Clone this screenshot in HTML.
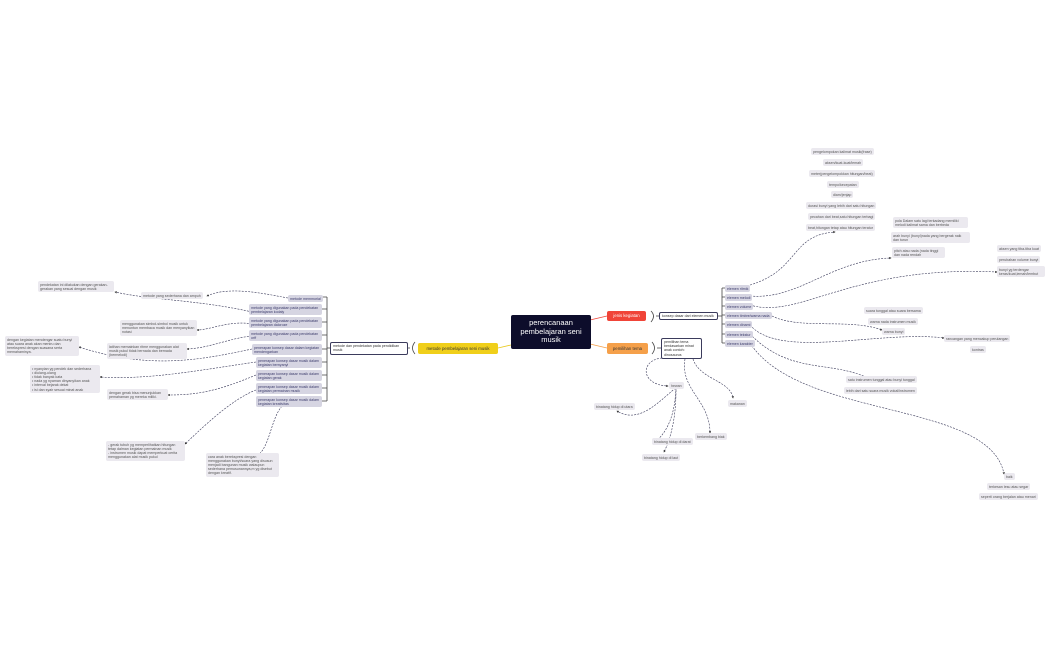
<!DOCTYPE html>
<html><head><meta charset="utf-8"><style>
html,body{margin:0;padding:0;background:#fff;width:1050px;height:650px;overflow:hidden;font-family:"Liberation Sans",sans-serif}
.n{position:absolute;background:#ebe9ef;border-radius:2px;color:#555;font-size:3.6px;line-height:4.2px;padding:1.5px 2px;box-sizing:border-box;white-space:normal}
.d{background:#d6d5e2;color:#3b3b6b}
.c{text-align:center;white-space:nowrap}
.w{position:absolute;background:#fff;border:1px solid #3b3b5c;border-radius:2px;color:#333;font-size:3.6px;line-height:4.2px;padding:1px 2px;box-sizing:border-box}
svg{position:absolute;left:0;top:0}
</style></head><body>
<svg width="1050" height="650" viewBox="0 0 1050 650">
<defs><marker id="a" markerWidth="4" markerHeight="4" refX="3" refY="2" orient="auto"><path d="M0,0L4,2L0,4z" fill="#333"/></marker></defs>
<g fill="none" stroke-width="0.8">
<path d="M590,320 L607,316" stroke="#f04438"/>
<path d="M590,344 L607,348" stroke="#f5a04a"/>
<path d="M511,345 L498,348" stroke="#e8c81a"/>
</g>
<g fill="none" stroke="#444" stroke-width="0.8">
<path d="M651,311 Q656,316 651,322 M656,316 L659,316"/>
<path d="M652,342 Q657,348 652,354 M657,348 L661,348"/>
<path d="M415,342 Q410,348 415,354 M410,348 L408,348"/>
<path d="M718,316 L722,316 M722,288 L722,343 M722,288 L726,288 M722,297 L726,297 M722,306 L726,306 M722,315 L726,315 M722,324 L726,324 M722,334 L726,334 M722,343 L726,343"/>
<path d="M330,348 L327,348 M327,297 L327,401 M327,297 L322,297 M327,309 L322,309 M327,322 L322,322 M327,335 L322,335 M327,349 L322,349 M327,362 L322,362 M327,375 L322,375 M327,388 L322,388 M327,401 L322,401"/>
</g>
<g fill="none" stroke="#3a3a5a" stroke-width="0.6" stroke-dasharray="2 1.2" marker-end="url(#a)">
<path d="M750,285 C800,270 790,235 835,232"/>
<path d="M750,296 C800,300 830,260 891,258"/>
<path d="M750,305 C800,320 850,265 997,272"/>
<path d="M772,316 C800,330 850,318 882,330"/>
<path d="M750,325 C780,360 880,330 944,338"/>
<path d="M750,334 C790,375 830,360 868,378"/>
<path d="M750,343 C800,420 990,400 1004,474"/>
<path d="M662,358 C640,360 640,385 668,386"/>
<path d="M693,359 C700,380 730,380 733,398"/>
<path d="M685,359 C680,390 710,400 710,433"/>
<path d="M678,386 C660,400 640,425 617,411"/>
<path d="M676,388 C675,410 670,430 655,442"/>
<path d="M676,390 C676,420 670,440 664,452"/>
<path d="M288,298 C270,295 230,285 207,296"/>
<path d="M252,312 C200,300 150,300 115,292"/>
<path d="M252,324 C230,320 210,330 197,330"/>
<path d="M252,336 C230,338 210,348 187,349"/>
<path d="M252,349 C200,360 150,370 79,347"/>
<path d="M256,362 C200,370 150,380 100,377"/>
<path d="M256,375 C220,390 200,395 168,395"/>
<path d="M256,390 C230,400 200,430 185,444"/>
<path d="M282,406 C270,420 270,450 255,457"/>
</g>
</svg>

<div style="position:absolute;left:511px;top:315px;width:80px;height:34px;background:#0d0d2b;border-radius:2px;color:#fff;font-size:7.5px;line-height:8.5px;text-align:center;display:flex;align-items:center;justify-content:center">perencanaan pembelajaran seni musik</div>
<div style="position:absolute;left:607px;top:311px;width:39px;height:10px;background:#f04438;border-radius:2px;color:#fff;font-size:4.3px;line-height:10px;text-align:center">jenis kegiatan</div>
<div style="position:absolute;left:607px;top:343px;width:41px;height:11px;background:#f5a04a;border-radius:2px;color:#333;font-size:4.3px;line-height:11px;text-align:center">pemilihan tema</div>
<div style="position:absolute;left:418px;top:343px;width:80px;height:11px;background:#f0cf1a;border-radius:2px;color:#333;font-size:4.3px;line-height:11px;text-align:center">metode pembelajaran seni musik</div>
<div class="w" style="left:330px;top:342px;width:78px;height:13px">metode dan pendekatan pada pendidikan musik</div>
<div class="w" style="left:659px;top:312px;width:59px;height:8px;white-space:nowrap">konsep dasar dari elemen musik</div>
<div class="w" style="left:661px;top:338px;width:41px;height:21px">pemilihan tema berdasarkan minat anak contoh: dinosaurus</div>

<div class="n d c" style="left:725px;top:285px">elemen ritmik</div>
<div class="n d c" style="left:725px;top:294px">elemen melodi</div>
<div class="n d c" style="left:725px;top:303px">elemen volume</div>
<div class="n d c" style="left:725px;top:312px">elemen timbre/warna nada</div>
<div class="n d c" style="left:725px;top:321px">elemen dinami</div>
<div class="n d c" style="left:725px;top:331px">elemen tekstur</div>
<div class="n d c" style="left:725px;top:340px">elemen karakter</div>

<div class="n c" style="left:811px;top:148px">pengelompokan kalimat musik(frase)</div>
<div class="n c" style="left:823px;top:159px">aksen/kuat-kuat/lemah</div>
<div class="n c" style="left:809px;top:170px">meter(pengelompokkan hitungan/beat)</div>
<div class="n c" style="left:827px;top:181px">tempo/kecepatan</div>
<div class="n c" style="left:831px;top:191px">diam/jenjap</div>
<div class="n c" style="left:806px;top:202px">durasi bunyi yang lebih dari satu hitungan</div>
<div class="n c" style="left:808px;top:213px">pecahan dari beat,satu hitungan terbagi</div>
<div class="n c" style="left:806px;top:224px">beat,hitungan tetap atau hitungan teratur</div>
<div class="n" style="left:893px;top:217px;width:75px">pola Dalam satu lagi terkadang memiliki melodi kalimat sama dan berbeda</div>
<div class="n" style="left:891px;top:232px;width:79px">arah bunyi (bunyi)nada yang bergerak naik dan turun</div>
<div class="n" style="left:892px;top:247px;width:53px">pitch atau nada (nada tinggi dan nada rendah</div>
<div class="n c" style="left:997px;top:245px">aksen yang tiba-tiba kuat</div>
<div class="n c" style="left:997px;top:256px">perubahan volume bunyi</div>
<div class="n" style="left:997px;top:266px;width:48px">bunyi yg terdengar keras/kuat,lemah/lembut</div>
<div class="n c" style="left:864px;top:307px">suara tunggal atau suara bersama</div>
<div class="n c" style="left:868px;top:318px">warna nada instrumen musik</div>
<div class="n c" style="left:882px;top:328px">warna bunyi</div>
<div class="n c" style="left:944px;top:335px">rancangan yang mencakup perulangan</div>
<div class="n c" style="left:970px;top:346px">kontras</div>
<div class="n c" style="left:846px;top:376px">satu instrumen tunggal atau bunyi tunggal</div>
<div class="n c" style="left:844px;top:387px">lebih dari satu suara musik vokal/instrumen</div>
<div class="n c" style="left:1004px;top:473px">baik</div>
<div class="n c" style="left:987px;top:483px">terkesan lesu atau segar</div>
<div class="n c" style="left:979px;top:493px">seperti orang berjalan atau menari</div>

<div class="n c" style="left:669px;top:382px">hewan</div>
<div class="n c" style="left:728px;top:400px">makanan</div>
<div class="n c" style="left:594px;top:403px">binatang hidup di utara</div>
<div class="n c" style="left:652px;top:438px">binatang hidup di darat</div>
<div class="n" style="left:695px;top:433px;width:32px">berkembang biak</div>
<div class="n c" style="left:642px;top:454px">binatang hidup di laut</div>

<div class="n d c" style="left:288px;top:295px">metode memmorial</div>
<div class="n d" style="left:249px;top:304px;width:73px">metode yang digunakan pada pendekatan pembelajaran kodaly</div>
<div class="n d" style="left:249px;top:317px;width:73px">metode yang digunakan pada pendekatan pembelajaran dalcroze</div>
<div class="n d" style="left:249px;top:330px;width:73px">metode yang digunakan pada pendekatan orff</div>
<div class="n d" style="left:252px;top:344px;width:70px">penerapan konsep dasar dalam kegiatan mendengarkan</div>
<div class="n d" style="left:256px;top:357px;width:66px">penerapan konsep dasar musik dalam kegiatan bernyanyi</div>
<div class="n d" style="left:256px;top:370px;width:66px">penerapan konsep dasar musik dalam kegiatan gerak</div>
<div class="n d" style="left:256px;top:383px;width:66px">penerapan konsep dasar musik dalam kegiatan permainan musik</div>
<div class="n d" style="left:256px;top:396px;width:66px">penerapan konsep dasar musik dalam kegiatan kreativitas</div>

<div class="n" style="left:38px;top:281px;width:76px">pendekatan ini dilakukan dengan gerakan-gerakan yang sesuai dengan musik</div>
<div class="n c" style="left:141px;top:292px">metode yang sederhana dan ampuh</div>
<div class="n" style="left:120px;top:320px;width:77px">menggunakan simbol-simbol musik untuk menuntun membaca musik dan menyanyikan notasi</div>
<div class="n" style="left:5px;top:336px;width:74px">dengan kegiatan mendengar suatu bunyi atau suara anak akan meniru dan berekspresi dengan suasana serta memahaminya.</div>
<div class="n" style="left:107px;top:343px;width:80px">latihan memainkan ritme menggunakan alat musik pukul tidak bernada dan bernada (bermelodi)</div>
<div class="n" style="left:30px;top:365px;width:70px">• nyanyian yg pendek dan sederhana<br>• diulang-ulang<br>• tidak banyak kata<br>• nada yg nyaman dinyanyikan anak<br>• interval bejarak dekat<br>• isi dan syair sesuai minat anak</div>
<div class="n" style="left:107px;top:389px;width:61px">dengan gerak bisa menunjukkan pemahaman yg mereka miliki.</div>
<div class="n" style="left:106px;top:441px;width:79px">- gerak tubuh yg memperlihatkan hitungan tetap dalman kegiatan permainan musik<br>- instrumen musik dapat memperkuat cerita menggunakan alat musik pukul</div>
<div class="n" style="left:206px;top:453px;width:73px">cara anak berekspresi dengan menggunakan bunyi/suara yang disusun menjadi bangunan musik walaupun sederhana pemusunannya,m yg disebut dengan kreatif.</div>
</body></html>
